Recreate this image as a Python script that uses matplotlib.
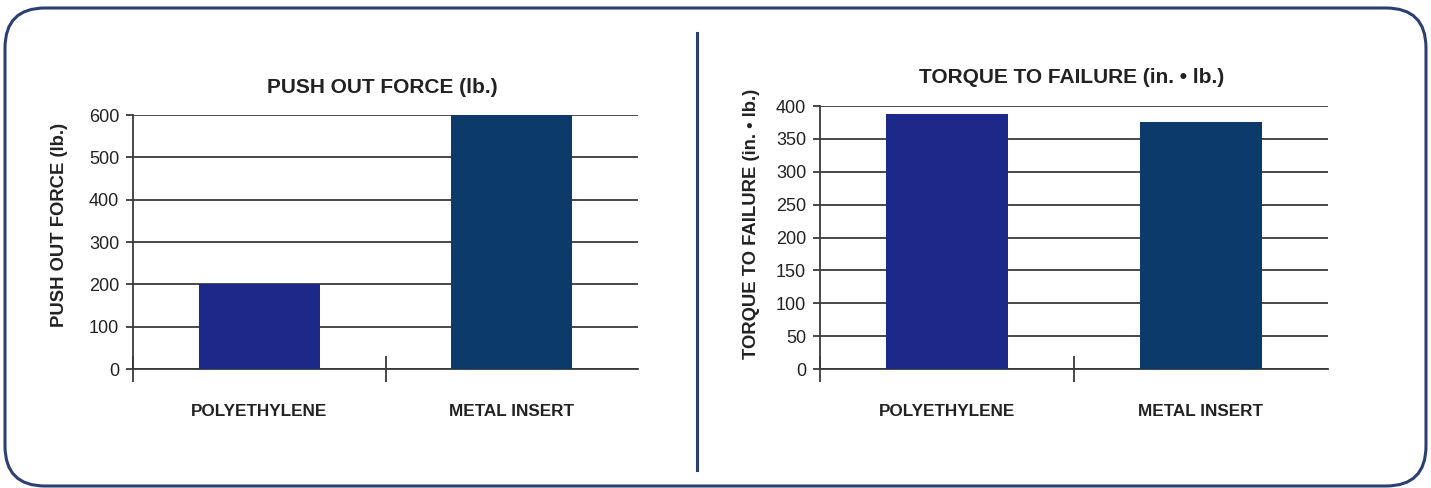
import matplotlib
matplotlib.use("Agg")
import matplotlib.pyplot as plt
from matplotlib.patches import FancyBboxPatch
from matplotlib.lines import Line2D

plt.rcParams['font.family'] = ['Liberation Sans', 'DejaVu Sans']

categories = ["POLYETHYLENE", "METAL INSERT"]
push_out = [200, 600]
torque = [388, 375]
push_ticks = [0, 100, 200, 300, 400, 500, 600]
torque_ticks = [0, 50, 100, 150, 200, 250, 300, 350, 400]
bar_colors = ["#1d2989", "#0b3a6b"]

W, H = 1431, 488
fig = plt.figure(figsize=(W / 100, H / 100), dpi=100)
fig.patch.set_facecolor("white")

# overlay for frame
bg = fig.add_axes([0, 0, 1, 1], zorder=-1)
bg.set_xlim(0, W)
bg.set_ylim(H, 0)
bg.axis("off")
frame = FancyBboxPatch((5, 8), 1421, 478, boxstyle="round,pad=0,rounding_size=40",
                       fill=False, edgecolor="#2b3f70", linewidth=2.2)
bg.add_patch(frame)
bg.add_line(Line2D([697, 697], [33, 470], color="#2b3f70", linewidth=2.2))

gridc = "#3a3a3a"
txtc = "#222222"


def make(ax_rect, values, ticks, title, ylabel, title_xy, ylabel_xy):
    ax = fig.add_axes(ax_rect)
    x = list(range(len(categories)))
    ax.bar(x, values, width=0.48, color=bar_colors, zorder=3)
    ax.set_xlim(-0.5, 1.5)
    ax.set_ylim(ticks[0], ticks[-1])
    ax.set_yticks(ticks)
    ax.yaxis.grid(True, color=gridc, linewidth=1.3, zorder=1)
    ax.set_axisbelow(True)
    for s in ["top", "right"]:
        ax.spines[s].set_visible(False)
    ax.spines["left"].set_color(gridc)
    ax.spines["left"].set_linewidth(1.3)
    ax.spines["bottom"].set_color(gridc)
    ax.spines["bottom"].set_linewidth(1.3)
    ax.tick_params(axis="y", direction="out", length=5, width=1.3, color=gridc,
                   labelsize=13, labelcolor=txtc, pad=5)
    ax.set_xticks([-0.5, 0.5])
    ax.set_xticklabels(["", ""])
    ax.tick_params(axis="x", which="major", direction="inout", length=19, width=1.3, color=gridc)
    ax.set_xticks(x, minor=True)
    ax.set_xticklabels(categories, minor=True, fontweight="bold", fontsize=12.3, color=txtc)
    ax.tick_params(axis="x", which="minor", length=0, pad=25)
    ax.text(title_xy[0], title_xy[1], title, transform=ax.transAxes, ha="center", va="center",
            fontsize=15, fontweight="bold", color=txtc)
    ax.text(ylabel_xy[0], ylabel_xy[1], ylabel, transform=ax.transAxes, ha="center", va="center",
            rotation=90, fontsize=13.3, fontweight="bold", color=txtc)
    return ax


def rect(x0, x1, ytop, ybot):
    return [x0 / W, 1 - ybot / H, (x1 - x0) / W, (ybot - ytop) / H]


make(rect(133, 638, 115, 369), push_out, push_ticks, "PUSH OUT FORCE (lb.)",
     "PUSH OUT FORCE (lb.)", ((382 - 133) / 505, (369 - 87) / 254),
     ((60 - 133) / 505, (369 - 225) / 254))
make(rect(820, 1328, 106, 369), torque, torque_ticks, "TORQUE TO FAILURE (in. \u2022 lb.)",
     "TORQUE TO FAILURE (in. \u2022 lb.)", ((1072 - 820) / 508, (369 - 77) / 263),
     ((752 - 820) / 508, (369 - 224) / 263))

fig.savefig("out.png", dpi=100, facecolor="white")
